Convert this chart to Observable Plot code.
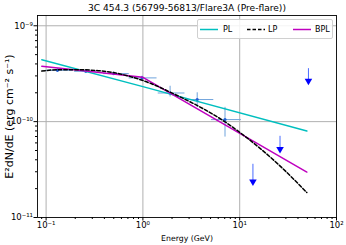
<!DOCTYPE html>
<html>
<head>
<meta charset="utf-8">
<script src="https://cdn.jsdelivr.net/npm/d3@7"></script>
<script src="https://cdn.jsdelivr.net/npm/@observablehq/plot@0.6"></script>
<style>
  html, body { margin: 0; padding: 0; background: #fff; }
  #wrap { position: relative; width: 346px; height: 245px; font-family: "DejaVu Sans", sans-serif; }
  #legend { position: absolute; left: 197px; top: 19px; width: 134px; height: 18px;
            border: 1px solid #d0d0d0; border-radius: 2px; background: rgba(255,255,255,0.85); }
  #legend svg { position: absolute; left: 0; top: 0; }
</style>
</head>
<body>
<div id="wrap"></div>
<script>
// ---- texts ----
const title = "3C 454.3 (56799-56813/Flare3A (Pre-flare))";
const xLabel = "Energy (GeV)";
const yLabel = "E²dN/dE (erg cm⁻² s⁻¹)";
const seriesNames = ["PL", "LP", "BPL"];

// ---- ticks ----
const xTicks = [0.1, 1, 10, 100];
const yTicks = [1e-11, 1e-10, 1e-9];
const xMinor = [0.09, 0.2, 0.3, 0.4, 0.5, 0.6, 0.7, 0.8, 0.9, 2, 3, 4, 5, 6, 7, 8, 9, 20, 30, 40, 50, 60, 70, 80, 90];
const yMinor = [2e-11, 3e-11, 4e-11, 5e-11, 6e-11, 7e-11, 8e-11, 9e-11, 2e-10, 3e-10, 4e-10, 5e-10, 6e-10, 7e-10, 8e-10, 9e-10];

// ---- model curves ----
const plE = [0.0903, 1.0, 49.4];
const plF = [4.43e-10, 2.32e-10, 7.98e-11];

const lpE = [0.0903, 0.135, 0.217, 0.348, 0.473, 0.741, 1.007, 1.51, 1.91, 4.16, 7.0, 9.98, 25.7, 49.4];
const lpF = [3.37e-10, 3.48e-10, 3.48e-10, 3.40e-10, 3.28e-10, 2.95e-10, 2.68e-10, 2.27e-10, 2.03e-10, 1.37e-10, 1.00e-10, 7.75e-11, 3.50e-11, 1.82e-11];

const bplE = [0.0903, 1.0, 49.4];
const bplF = [3.78e-10, 2.90e-10, 2.98e-11];

// ---- flux points ----
const ptE   = [0.131, 0.257, 0.499, 0.98, 1.91, 3.64, 7.05];
const ptF   = [3.43e-10, 3.35e-10, 3.17e-10, 2.86e-10, 1.99e-10, 1.70e-10, 1.05e-10];
const ptElo = [0.10, 0.197, 0.391, 0.72, 1.44, 2.83, 5.11];
const ptEhi = [0.19, 0.332, 0.723, 1.40, 2.72, 5.40, 10.4];
const ptFlo = [3.30e-10, 3.25e-10, 3.05e-10, 2.74e-10, 1.81e-10, 1.41e-10, 6.9e-11];
const ptFhi = [3.56e-10, 3.45e-10, 3.29e-10, 2.98e-10, 2.34e-10, 2.00e-10, 1.41e-10];

// ---- upper limits ----
const ulE   = [13.7, 26.1, 51.3];
const ulF   = [3.59e-11, 7.03e-11, 3.57e-10];
const ulTip = [2.25e-11, 4.93e-11, 2.53e-10];

// ---- build tables ----
const rows = (E, F) => E.map((e, i) => ({e, f: F[i]}));
const pts = ptE.map((e, i) => ({e, f: ptF[i], elo: ptElo[i], ehi: ptEhi[i], flo: ptFlo[i], fhi: ptFhi[i]}));
const uls = ulE.map((e, i) => ({e, f: ulF[i], tip: ulTip[i]}));

const sup = {"-": "⁻", "0": "⁰", "1": "¹", "2": "²", "3": "³", "4": "⁴", "5": "⁵", "6": "⁶", "7": "⁷", "8": "⁸", "9": "⁹"};
const fmt = d => "10" + String(Math.round(Math.log10(d))).split("").map(c => sup[c]).join("");

const cPL = "#00bfbf", cLP = "#000000", cBPL = "#bf00bf";
const ebColor = "#6fa3dc", ptColor = "#1f5fd6", ulColor = "#0000ff";

const chart = Plot.plot({
  width: 346,
  height: 245,
  marginTop: 15,
  marginBottom: 28,
  marginLeft: 37,
  marginRight: 10,
  style: {fontFamily: "DejaVu Sans, sans-serif", background: "transparent", overflow: "visible"},
  x: {type: "log", domain: [0.0815, 100]},
  y: {type: "log", domain: [1e-11, 1.28e-9]},
  marks: [
    Plot.gridX(xTicks.slice(0, 3), {stroke: "#b0b0b0", strokeOpacity: 1, strokeWidth: 1}),
    Plot.gridY(yTicks.slice(1), {stroke: "#b0b0b0", strokeOpacity: 1, strokeWidth: 1}),
    Plot.ruleY(pts, {y: "f", x1: "elo", x2: "ehi", stroke: ebColor, strokeWidth: 1}),
    Plot.ruleX(pts, {x: "e", y1: "flo", y2: "fhi", stroke: ebColor, strokeWidth: 1}),
    Plot.dot(pts, {x: "e", y: "f", r: 1.6, fill: ptColor}),
    Plot.line(rows(plE, plF), {x: "e", y: "f", stroke: cPL, strokeWidth: 1.5}),
    Plot.line(rows(bplE, bplF), {x: "e", y: "f", stroke: cBPL, strokeWidth: 1.5}),
    Plot.line(rows(lpE, lpF), {x: "e", y: "f", stroke: cLP, strokeWidth: 1.5, strokeDasharray: "3.5,2", curve: "monotone-x"}),
    Plot.ruleX(uls, {x: "e", y1: "f", y2: "tip", stroke: "#4a6cff", strokeWidth: 1}),
    Plot.dot(uls, {x: "e", y: "tip", symbol: "triangle", rotate: 180, r: 2.8, fill: ulColor, stroke: "none", dy: -2}),
    Plot.frame({stroke: "#000", strokeWidth: 0.9}),
    Plot.axisX(xMinor, {tickSize: 2, tickFormat: () => "", stroke: "#000"}),
    Plot.axisY(yMinor, {tickSize: 2, tickFormat: () => "", stroke: "#000"}),
    Plot.axisX(xTicks, {tickSize: 3.5, tickPadding: 1, tickFormat: fmt, fontSize: 8.5, stroke: "#000", fill: "#000", label: null}),
    Plot.axisY(yTicks, {tickSize: 3.5, tickPadding: 1, tickFormat: fmt, fontSize: 8.5, stroke: "#000", fill: "#000", label: null}),
    Plot.text([title], {frameAnchor: "top", dy: -7, fontSize: 9.2, fill: "#000", lineAnchor: "middle", textAnchor: "middle"}),
    Plot.text([xLabel], {frameAnchor: "bottom", dy: 21, fontSize: 8, fill: "#000", lineAnchor: "middle", textAnchor: "middle"}),
    Plot.text([yLabel], {frameAnchor: "left", dx: -28, rotate: -90, fontSize: 9, fill: "#000", lineAnchor: "middle", textAnchor: "middle"})
  ]
});

const wrap = document.getElementById("wrap");
wrap.appendChild(chart);

// fit label lengths to the reference (pixel lengths measured from it)
const targets = [[title, 198], [xLabel, 52], [yLabel, 126]];
chart.querySelectorAll("text").forEach(t => {
  const hit = targets.find(([s]) => t.textContent === s);
  if (!hit) return;
  const len = t.getComputedTextLength();
  if (len > 0) {
    const fs = parseFloat(getComputedStyle(t).fontSize) || 8;
    const nfs = Math.min(11, fs * hit[1] / len);
    t.setAttribute("font-size", nfs.toFixed(2));
    t.style.fontSize = nfs.toFixed(2) + "px";
  }
});

// legend
const lg = document.createElement("div");
lg.id = "legend";
const swatches = [
  {x: 2, color: cPL, dash: null, tx: 25},
  {x: 49, color: cLP, dash: "3.5,2", tx: 70},
  {x: 95, color: cBPL, dash: null, tx: 117}
];
let s = '<svg width="134" height="18" xmlns="http://www.w3.org/2000/svg">';
seriesNames.forEach((name, i) => {
  const w = swatches[i];
  s += `<line x1="${w.x}" x2="${w.x + 18}" y1="9.5" y2="9.5" stroke="${w.color}" stroke-width="1.5"${w.dash ? ` stroke-dasharray="${w.dash}"` : ""}/>`;
  s += `<text x="${w.tx}" y="9.5" dominant-baseline="central" font-size="8" font-family="DejaVu Sans, sans-serif" fill="#000">${name}</text>`;
});
s += "</svg>";
lg.innerHTML = s;
wrap.appendChild(lg);
</script>
</body>
</html>
